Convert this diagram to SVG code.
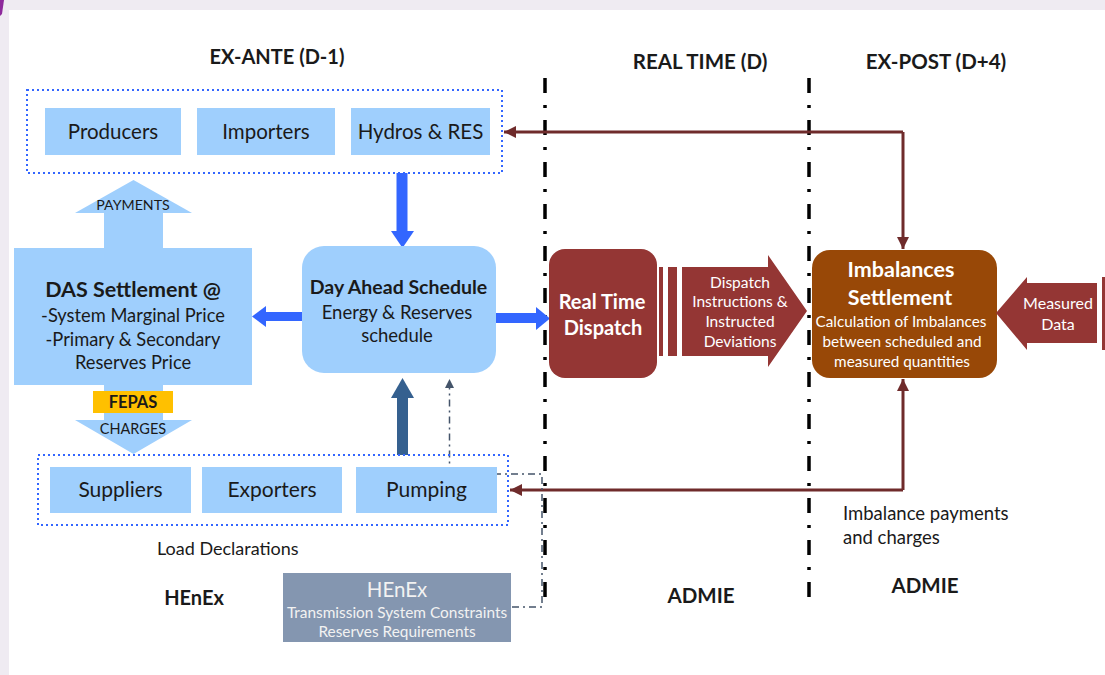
<svg xmlns="http://www.w3.org/2000/svg" width="1105" height="675" viewBox="0 0 1105 675">
<defs>
<style>
text{font-family:Lato,"Open Sans","Liberation Sans",sans-serif;}
.t{fill:#1a1a1a;}
.b{font-weight:bold;}
.w{fill:#ffffff;}
.lb{fill:#9fcffd;}
.dot{fill:none;stroke:#3366ff;stroke-width:2;stroke-dasharray:2 3;}
.sep{stroke:#000;stroke-width:3.5;stroke-dasharray:15 12 3 12;fill:none;}
.red{stroke:#6f2b2b;stroke-width:3;fill:none;}
.dd{stroke:#44546a;stroke-width:1.5;fill:none;stroke-dasharray:7 4 2 4;}
</style>
<marker id="ar" viewBox="0 0 10 10" refX="10" refY="5" markerWidth="14" markerHeight="12" markerUnits="userSpaceOnUse" orient="auto">
<path d="M0,0 L10,5 L0,10 Z" fill="#6f2b2b"/>
</marker>
<marker id="ad" viewBox="0 0 10 10" refX="10" refY="5" markerWidth="9" markerHeight="10" markerUnits="userSpaceOnUse" orient="auto">
<path d="M0,0 L10,5 L0,10 Z" fill="#44546a"/>
</marker>
</defs>
<rect x="0" y="0" width="1105" height="675" fill="#efebf2"/>
<rect x="9" y="10" width="1096" height="665" fill="#ffffff"/>
<path d="M0,0 L4,0 L2,14 L0,16 Z" fill="#8e2a9c"/>

<g id="headings">
<text x="277" y="64" text-anchor="middle" class="t b" font-size="20">EX-ANTE (D-1)</text>
<text x="700" y="69" text-anchor="middle" class="t b" font-size="20.5">REAL TIME (D)</text>
<text x="936" y="69" text-anchor="middle" class="t b" font-size="20.5">EX-POST (D+4)</text>
</g>

<g id="separators">
<line x1="545" y1="78" x2="545" y2="608" class="sep"/>
<line x1="809" y1="78" x2="809" y2="608" class="sep"/>
</g>

<g id="connectors">
<path d="M402,173 V231" stroke="#3366ff" stroke-width="11" fill="none"/>
<path d="M391,231 H414 L402.5,248 Z" fill="#3366ff"/>
<path d="M402.5,455 V398" stroke="#35608f" stroke-width="11" fill="none"/>
<path d="M391,398 H414 L402.5,378 Z" fill="#35608f"/>
<path d="M302,316.5 H264" stroke="#3366ff" stroke-width="9" fill="none"/>
<path d="M266,306 V327 L252,316.5 Z" fill="#3366ff"/>
<path d="M496,318 H537" stroke="#3366ff" stroke-width="10" fill="none"/>
<path d="M536,307 V330 L550,318.5 Z" fill="#3366ff"/>
<path d="M903,132 H504" class="red" marker-end="url(#ar)"/>
<path d="M903,132 V249" class="red" marker-end="url(#ar)"/>
<path d="M903,490 H510" class="red" marker-end="url(#ar)"/>
<path d="M903,490 V379" class="red" marker-end="url(#ar)"/>
<path d="M512,607 H542 V474 H449.5 V379" class="dd" marker-end="url(#ad)"/>
</g>

<g id="top-group">
<rect x="27" y="90" width="475" height="83" class="dot"/>
<g id="producers"><rect x="45" y="108" width="136" height="47" class="lb"/><text x="113" y="139" text-anchor="middle" class="t" font-size="20.5">Producers</text></g>
<g id="importers"><rect x="197" y="108" width="138" height="47" class="lb"/><text x="266" y="139" text-anchor="middle" class="t" font-size="20.5">Importers</text></g>
<g id="hydros"><rect x="351" y="108" width="139" height="47" class="lb"/><text x="420.5" y="139" text-anchor="middle" class="t" font-size="20.5">Hydros &amp; RES</text></g>
</g>

<g id="bottom-group">
<rect x="38" y="455" width="470" height="70" class="dot"/>
<g id="suppliers"><rect x="50" y="467" width="141" height="46" class="lb"/><text x="120.5" y="497" text-anchor="middle" class="t" font-size="21">Suppliers</text></g>
<g id="exporters"><rect x="202" y="467" width="140" height="46" class="lb"/><text x="272" y="497" text-anchor="middle" class="t" font-size="21">Exporters</text></g>
<g id="pumping"><rect x="356" y="467" width="141" height="46" class="lb"/><text x="426.5" y="497" text-anchor="middle" class="t" font-size="21">Pumping</text></g>
</g>

<g id="das-settlement">
<path d="M104,248 V213 H75 L133.5,180 L192,213 H163 V248 Z" class="lb"/>
<rect x="14" y="248" width="238" height="137" class="lb"/>
<path d="M104,385 V420 H75 L133.5,454 L192,420 H163 V385 Z" class="lb"/>
<text x="133" y="210" text-anchor="middle" class="t" font-size="14.2">PAYMENTS</text>
<text x="133" y="297" text-anchor="middle" class="t b" font-size="21.5">DAS Settlement @</text>
<text x="133" y="322" text-anchor="middle" class="t" font-size="18.3">-System Marginal Price</text>
<text x="133" y="346" text-anchor="middle" class="t" font-size="18.3">-Primary &amp; Secondary</text>
<text x="133" y="369" text-anchor="middle" class="t" font-size="18.3">Reserves Price</text>
<text x="133" y="434" text-anchor="middle" class="t" font-size="14.5">CHARGES</text>
</g>

<g id="fepas">
<rect x="93" y="391" width="80" height="22" fill="#ffc000"/>
<text x="133" y="408" text-anchor="middle" class="t b" font-size="16.5">FEPAS</text>
</g>

<g id="day-ahead">
<rect x="302" y="246" width="194" height="127" rx="22" class="lb"/>
<text x="398.5" y="294" text-anchor="middle" class="t b" font-size="19.5">Day Ahead Schedule</text>
<text x="397" y="319" text-anchor="middle" class="t" font-size="18.5">Energy &amp; Reserves</text>
<text x="397" y="342" text-anchor="middle" class="t" font-size="18.5">schedule</text>
</g>

<g id="real-time-dispatch">
<rect x="549" y="249" width="108" height="129" rx="16" fill="#943634"/>
<text x="602" y="309" text-anchor="middle" class="w b" font-size="20">Real Time</text>
<text x="603" y="335" text-anchor="middle" class="w b" font-size="20">Dispatch</text>
</g>

<g id="dispatch-instructions">
<rect x="659" y="267" width="4" height="89" fill="#943634"/>
<rect x="668" y="267" width="9" height="89" fill="#943634"/>
<path d="M682,267 H768 V255 L807,311 L768,367 V356 H682 Z" fill="#943634"/>
<text x="740" y="288" text-anchor="middle" class="w" font-size="15.5">Dispatch</text>
<text x="740" y="307" text-anchor="middle" class="w" font-size="15.5">Instructions &amp;</text>
<text x="740" y="327" text-anchor="middle" class="w" font-size="15.5">Instructed</text>
<text x="740" y="347" text-anchor="middle" class="w" font-size="15.5">Deviations</text>
</g>

<g id="imbalances-settlement">
<rect x="812" y="250" width="185" height="128" rx="18" fill="#984807"/>
<text x="901" y="277" text-anchor="middle" class="w b" font-size="21.5">Imbalances</text>
<text x="900" y="305" text-anchor="middle" class="w b" font-size="21.5">Settlement</text>
<text x="901" y="327" text-anchor="middle" class="w" font-size="15.3">Calculation of Imbalances</text>
<text x="902" y="347" text-anchor="middle" class="w" font-size="15.3">between scheduled and</text>
<text x="902" y="367" text-anchor="middle" class="w" font-size="15.3">measured quantities</text>
</g>

<g id="measured-data">
<path d="M1097,283 H1027 V277 L996,313 L1027,350 V343 H1097 Z" fill="#943634"/>
<rect x="1102" y="277" width="3" height="73" fill="#943634"/>
<text x="1058" y="309" text-anchor="middle" class="w" font-size="16">Measured</text>
<text x="1058" y="330" text-anchor="middle" class="w" font-size="16">Data</text>
</g>

<g id="henex-box">
<rect x="283" y="573" width="228" height="69" fill="#8496b0"/>
<text x="397" y="597" text-anchor="middle" fill="#f2f2f2" font-size="20.5">HEnEx</text>
<text x="397" y="618" text-anchor="middle" fill="#f2f2f2" font-size="15.4">Transmission System Constraints</text>
<text x="397" y="637" text-anchor="middle" fill="#f2f2f2" font-size="15.4">Reserves Requirements</text>
</g>

<g id="labels">
<text x="157" y="555" class="t" font-size="18">Load Declarations</text>
<text x="194" y="605" text-anchor="middle" class="t b" font-size="20">HEnEx</text>
<text x="701" y="603" text-anchor="middle" class="t b" font-size="20.5">ADMIE</text>
<text x="925" y="593" text-anchor="middle" class="t b" font-size="20.5">ADMIE</text>
<text x="843" y="520" class="t" font-size="18.5">Imbalance payments</text>
<text x="843" y="544" class="t" font-size="18.5">and charges</text>
</g>
</svg>
